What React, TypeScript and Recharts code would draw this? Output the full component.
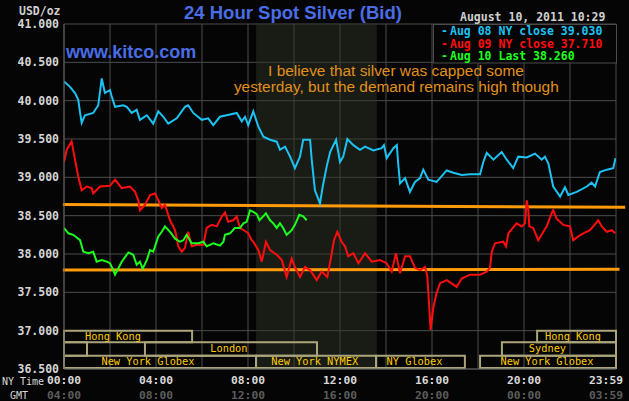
import { CartesianGrid, Line, LineChart, ReferenceArea, ReferenceLine, XAxis, YAxis } from "recharts";

// [hour of NY day, price]
const aug08Close: [number, number][] = [
  [0, 40.25], [0.26, 40.18], [0.48, 40.1], [0.62, 40.01], [0.7, 39.84], [0.77, 39.71], [0.91, 39.81],
  [1.27, 39.84], [1.49, 39.94], [1.64, 40.29], [1.78, 40.1], [2.0, 40.14], [2.07, 40.06], [2.22, 39.92],
  [2.58, 39.94], [2.73, 39.92], [2.94, 39.84], [3.16, 39.88], [3.3, 39.75], [3.6, 39.81], [3.88, 39.7],
  [4.1, 39.86], [4.32, 39.79], [4.53, 39.7], [4.9, 39.77], [5.26, 39.92], [5.4, 39.94], [5.62, 39.84],
  [5.99, 39.75], [6.27, 39.77], [6.49, 39.68], [6.78, 39.79], [7.07, 39.81], [7.51, 39.84], [7.73, 39.73],
  [7.87, 39.79], [8.01, 39.68], [8.23, 39.86], [8.45, 39.66], [8.67, 39.53], [8.96, 39.49], [9.25, 39.465],
  [9.39, 39.36], [9.61, 39.4], [9.83, 39.27], [10.04, 39.12], [10.26, 39.27], [10.4, 39.49], [10.7, 39.49],
  [10.77, 39.23], [10.91, 38.83], [11.13, 38.66], [11.25, 38.88], [11.42, 39.14], [11.57, 39.33],
  [11.83, 39.49], [12.0, 39.2], [12.14, 39.27], [12.32, 39.5], [12.58, 39.42], [12.87, 39.36], [13.09, 39.4],
  [13.45, 39.35], [13.81, 39.38], [13.91, 39.42], [14.03, 39.25], [14.32, 39.38], [14.47, 39.42],
  [14.53, 39.18], [14.61, 38.92], [14.83, 38.99], [15.04, 38.81], [15.26, 38.94], [15.48, 38.99],
  [15.62, 39.1], [15.84, 38.97], [16.2, 38.94], [16.64, 39.09], [16.93, 39.06], [17.29, 39.03],
  [17.65, 39.04], [18.09, 39.04], [18.23, 39.2], [18.38, 39.32], [18.67, 39.23], [19.03, 39.33],
  [19.25, 39.23], [19.53, 39.12], [19.75, 39.27], [20.12, 39.26], [20.48, 39.31], [20.77, 39.23],
  [20.91, 39.27], [21.06, 39.18], [21.27, 38.88], [21.57, 38.75], [21.78, 38.87], [21.93, 38.77],
  [22.29, 38.81], [22.73, 38.88], [22.94, 38.93], [23.09, 38.88], [23.3, 39.07], [23.6, 39.1],
  [23.88, 39.12], [23.98, 39.25],
];

const aug09Close: [number, number][] = [
  [0, 39.2], [0.12, 39.36], [0.33, 39.47], [0.43, 39.31], [0.62, 39.01], [0.77, 38.83], [0.99, 38.88],
  [1.2, 38.86], [1.27, 38.79], [1.57, 38.88], [2.0, 38.89], [2.22, 38.97], [2.51, 38.86], [2.87, 38.88],
  [3.09, 38.81], [3.23, 38.7], [3.3, 38.57], [3.52, 38.64], [3.74, 38.77], [3.96, 38.79], [4.1, 38.7],
  [4.25, 38.6], [4.39, 38.64], [4.61, 38.44], [4.83, 38.31], [4.97, 38.1], [5.12, 38.03], [5.26, 38.08],
  [5.4, 38.29], [5.55, 38.1], [5.77, 38.12], [6.06, 38.12], [6.2, 38.34], [6.42, 38.38], [6.64, 38.36],
  [6.86, 38.49], [7.0, 38.54], [7.14, 38.42], [7.36, 38.44], [7.51, 38.49], [7.65, 38.34], [7.87, 38.3],
  [8.01, 38.27], [8.16, 38.18], [8.23, 38.16], [8.45, 38.05], [8.6, 37.9], [8.78, 38.16], [8.96, 38.05],
  [9.25, 37.99], [9.47, 37.92], [9.68, 37.7], [9.9, 37.94], [10.04, 37.83], [10.26, 37.7], [10.48, 37.83],
  [10.7, 37.79], [10.99, 37.66], [11.2, 37.77], [11.45, 37.7], [11.6, 37.94], [11.74, 38.18], [11.88, 38.29],
  [12.07, 38.16], [12.22, 38.1], [12.36, 37.97], [12.58, 38.01], [12.8, 37.88], [13.09, 38.01],
  [13.38, 37.9], [13.74, 37.92], [14.03, 37.88], [14.25, 37.77], [14.43, 38.01], [14.61, 37.75],
  [14.83, 37.97], [15.04, 37.97], [15.26, 37.82], [15.48, 37.79], [15.7, 37.83], [15.8, 37.7],
  [15.88, 37.31], [15.94, 37.01], [16.06, 37.31], [16.2, 37.49], [16.35, 37.62], [16.64, 37.66],
  [16.93, 37.6], [17.07, 37.57], [17.29, 37.68], [17.65, 37.73], [18.09, 37.73], [18.38, 37.77],
  [18.52, 37.82], [18.6, 38.03], [18.74, 38.14], [19.1, 38.16], [19.22, 38.1], [19.32, 38.27],
  [19.68, 38.4], [19.9, 38.36], [20.04, 38.4], [20.12, 38.7], [20.19, 38.57], [20.23, 38.36],
  [20.4, 38.34], [20.62, 38.18], [20.84, 38.29], [20.99, 38.36], [21.2, 38.53], [21.27, 38.57],
  [21.42, 38.46], [21.71, 38.38], [22.0, 38.36], [22.14, 38.18], [22.36, 38.23], [22.58, 38.27],
  [22.87, 38.31], [23.23, 38.44], [23.38, 38.36], [23.6, 38.29], [23.81, 38.31], [23.98, 38.27],
];

const aug10Last: [number, number][] = [
  [0, 38.34], [0.19, 38.27], [0.4, 38.25], [0.7, 38.18], [0.84, 38.03], [1.06, 38.01], [1.27, 38.03],
  [1.42, 37.9], [1.64, 37.92], [1.86, 37.9], [2.0, 37.88], [2.14, 37.79], [2.22, 37.73], [2.36, 37.81],
  [2.51, 37.9], [2.8, 38.02], [3.01, 37.99], [3.16, 37.86], [3.3, 37.9], [3.42, 37.81], [3.6, 37.92],
  [3.74, 38.05], [3.88, 38.03], [4.1, 38.23], [4.25, 38.29], [4.39, 38.36], [4.61, 38.29], [4.83, 38.2],
  [5.04, 38.16], [5.19, 38.18], [5.33, 38.25], [5.55, 38.14], [5.84, 38.14], [6.06, 38.16], [6.2, 38.1],
  [6.49, 38.14], [6.78, 38.11], [6.93, 38.16], [7.0, 38.25], [7.22, 38.27], [7.43, 38.34], [7.65, 38.34],
  [7.8, 38.4], [7.94, 38.42], [8.09, 38.57], [8.23, 38.55], [8.38, 38.52], [8.5, 38.44], [8.78, 38.53],
  [8.96, 38.44], [9.1, 38.4], [9.25, 38.34], [9.39, 38.4], [9.53, 38.34], [9.68, 38.25], [9.9, 38.31],
  [10.04, 38.38], [10.23, 38.51], [10.4, 38.49], [10.55, 38.44],
];

// hand-drawn orange trend lines: [hour, price] at each end
const upperBand: [number, number][] = [[-0.05, 38.645], [24.4, 38.61]];
const lowerBand: [number, number][] = [[-0.05, 37.79], [24.15, 37.8]];

const nymexPit = [8.35, 13.6];

const priceTicks = [36.5, 37, 37.5, 38, 38.5, 39, 39.5, 40, 40.5, 41];
const hourTicks = [0, 2, 4, 6, 8, 10, 12, 14, 16, 18, 20, 22, 24];
const nyTimeLabels: Record<number, string> = { 0: "00:00", 4: "04:00", 8: "08:00", 12: "12:00", 16: "16:00", 20: "20:00", 24: "23:59" };
const gmtLabels: Record<number, string> = { 0: "04:00", 4: "08:00", 8: "12:00", 12: "16:00", 16: "20:00", 20: "00:00", 24: "03:59" };

const legendLabels = ["Aug 08 NY close 39.030", "Aug 09 NY close 37.710", "Aug 10 Last 38.260"];

// market sessions: name, start hour, end hour, hour where the name sits, row
const sessions: [string, number, number, number, number][] = [
  ["Hong Kong", 0, 5.57, 2.13, 0],
  ["Hong Kong", 20.57, 24, 22.13, 0],
  ["", 0, 1.0, 0, 1],
  ["London", 3.52, 11.0, 7.17, 1],
  ["Sydney", 19.04, 24, 21.02, 1],
  ["New York Globex", 0, 8.35, 3.65, 2],
  ["New York NYMEX", 8.35, 13.57, 10.9, 2],
  ["NY Globex", 13.57, 17.43, 15.24, 2],
  ["New York Globex", 18.09, 24, 21.0, 2],
];
const sessionRows: [number, number][] = [[37.0, 36.848], [36.848, 36.674], [36.674, 36.513]];

const seriesColors = ["#1cc2f2", "#ff0d0d", "#1cff1c"];
const mono = "'DejaVu Sans Mono', monospace";
const sans = "'Liberation Sans', Arial, sans-serif";

const toPoints = (rows: [number, number][]) => rows.map(([t, v]) => ({ t, v }));

function PriceTick(props: any) {
  const { x, y, payload } = props;
  return (
    <text x={x} y={y} dy={4} textAnchor="end" fill="#d4d4d4" fontFamily={mono} fontWeight="bold" fontSize={11.5}>
      {payload.value.toFixed(3)}
    </text>
  );
}

function TimeTick(props: any) {
  const { x, y, payload } = props;
  const ny = nyTimeLabels[payload.value];
  if (!ny) return <g />;
  const last = payload.value === 24;
  const tx = last ? x + 7 : x;
  const anchor = last ? "end" : "middle";
  return (
    <g>
      <text x={tx} y={y + 15} textAnchor={anchor} fill="#d8d8d8" fontFamily={mono} fontWeight="bold" fontSize={11.3}>{ny}</text>
      <text x={tx} y={y + 30} textAnchor={anchor} fill="#5c5c5c" fontFamily={mono} fontWeight="bold" fontSize={11.3}>{gmtLabels[payload.value]}</text>
    </g>
  );
}

function SessionLabel(props: any) {
  const { viewBox, text, frac } = props;
  if (!viewBox || !text) return null;
  const { x, y, width, height } = viewBox;
  return (
    <text x={x + width * frac} y={y + height / 2 + 3.5} textAnchor="middle" fill="#ffcc00" fontFamily={mono} fontSize={10.3}>
      {text}
    </text>
  );
}

export default function App() {
  return (
    <div style={{ position: "absolute", left: 0, top: 0, width: 629, height: 401, background: "#050505", overflow: "hidden" }}>
      <LineChart width={629} height={401} margin={{ top: 24, right: 13, bottom: 0, left: 0 }}>
        <ReferenceArea x1={nymexPit[0]} x2={nymexPit[1]} y1={36.5} y2={41} fill="#2c3326" fillOpacity={0.5} stroke="none" />
        <CartesianGrid stroke="#4c4c4c" strokeWidth={1} />
        <XAxis
          dataKey="t"
          type="number"
          domain={[0, 24]}
          ticks={hourTicks}
          allowDataOverflow
          height={32}
          tickSize={0}
          tickMargin={0}
          axisLine={{ stroke: "#5a5a5a" }}
          tickLine={false}
          tick={<TimeTick />}
          interval={0}
        />
        <YAxis
          type="number"
          domain={[36.5, 41]}
          ticks={priceTicks}
          width={64}
          tickSize={0}
          tickMargin={5}
          axisLine={{ stroke: "#5a5a5a" }}
          tickLine={false}
          tick={<PriceTick />}
          interval={0}
        />
        {sessions.map(([name, start, end, at, row], i) => (
          <ReferenceArea
            key={i}
            x1={start}
            x2={end}
            y1={sessionRows[row][0]}
            y2={sessionRows[row][1]}
            fill="none"
            stroke="#aaa57b"
            strokeWidth={2}
            label={<SessionLabel text={name} frac={(at - start) / (end - start)} />}
          />
        ))}
        <ReferenceLine segment={upperBand.map(([x, y]) => ({ x, y }))} stroke="#ff9a0a" strokeWidth={3} ifOverflow="visible" />
        <ReferenceLine segment={lowerBand.map(([x, y]) => ({ x, y }))} stroke="#ff9a0a" strokeWidth={3} ifOverflow="visible" />
        <Line data={toPoints(aug08Close)} dataKey="v" stroke={seriesColors[0]} strokeWidth={2} dot={false} type="linear" isAnimationActive={false} />
        <Line data={toPoints(aug09Close)} dataKey="v" stroke={seriesColors[1]} strokeWidth={2} dot={false} type="linear" isAnimationActive={false} />
        <Line data={toPoints(aug10Last)} dataKey="v" stroke={seriesColors[2]} strokeWidth={2} dot={false} type="linear" isAnimationActive={false} />
      </LineChart>
      <svg width={629} height={401} style={{ position: "absolute", left: 0, top: 0, pointerEvents: "none" }}>
        <text x={19} y={15} fill="#cfcfcf" fontFamily={mono} fontWeight="bold" fontSize={11.5}>USD/oz</text>
        <text x={293} y={18.5} textAnchor="middle" fill="#4a6de6" fontFamily={sans} fontWeight="bold" fontSize={18.5}>24 Hour Spot Silver (Bid)</text>
        <text x={66} y={58} fill="#4a6de6" fontFamily={sans} fontWeight="bold" fontSize={18}>www.kitco.com</text>
        <text x={396} y={75.5} textAnchor="middle" fill="#e2901c" fontFamily={sans} fontSize={15.4}>I believe that silver was capped some</text>
        <text x={396.3} y={91.8} textAnchor="middle" fill="#e2901c" fontFamily={sans} fontSize={15.4}>yesterday, but the demand remains high though</text>
        <text x={460} y={21} fill="#d0d0d0" fontFamily={mono} fontWeight="bold" fontSize={11.5}>August 10, 2011 10:29</text>
        <rect x={433.5} y={24.5} width={183} height={38.5} fill="#050505" stroke="#4c4c4c" strokeWidth={1} />
        {legendLabels.map((label, i) => (
          <g key={label}>
            <text x={441} y={35 + i * 12.5} fill={seriesColors[i]} fontFamily={mono} fontWeight="bold" fontSize={11.5}>-</text>
            <text x={450} y={35 + i * 12.5} fill={seriesColors[i]} fontFamily={mono} fontWeight="bold" fontSize={11.5}>{label}</text>
          </g>
        ))}
        <text x={2} y={385} fill="#d8d8d8" fontFamily={mono} fontSize={10}>NY Time</text>
        <text x={10} y={399} fill="#d8d8d8" fontFamily={mono} fontSize={10}>GMT</text>
      </svg>
    </div>
  );
}
